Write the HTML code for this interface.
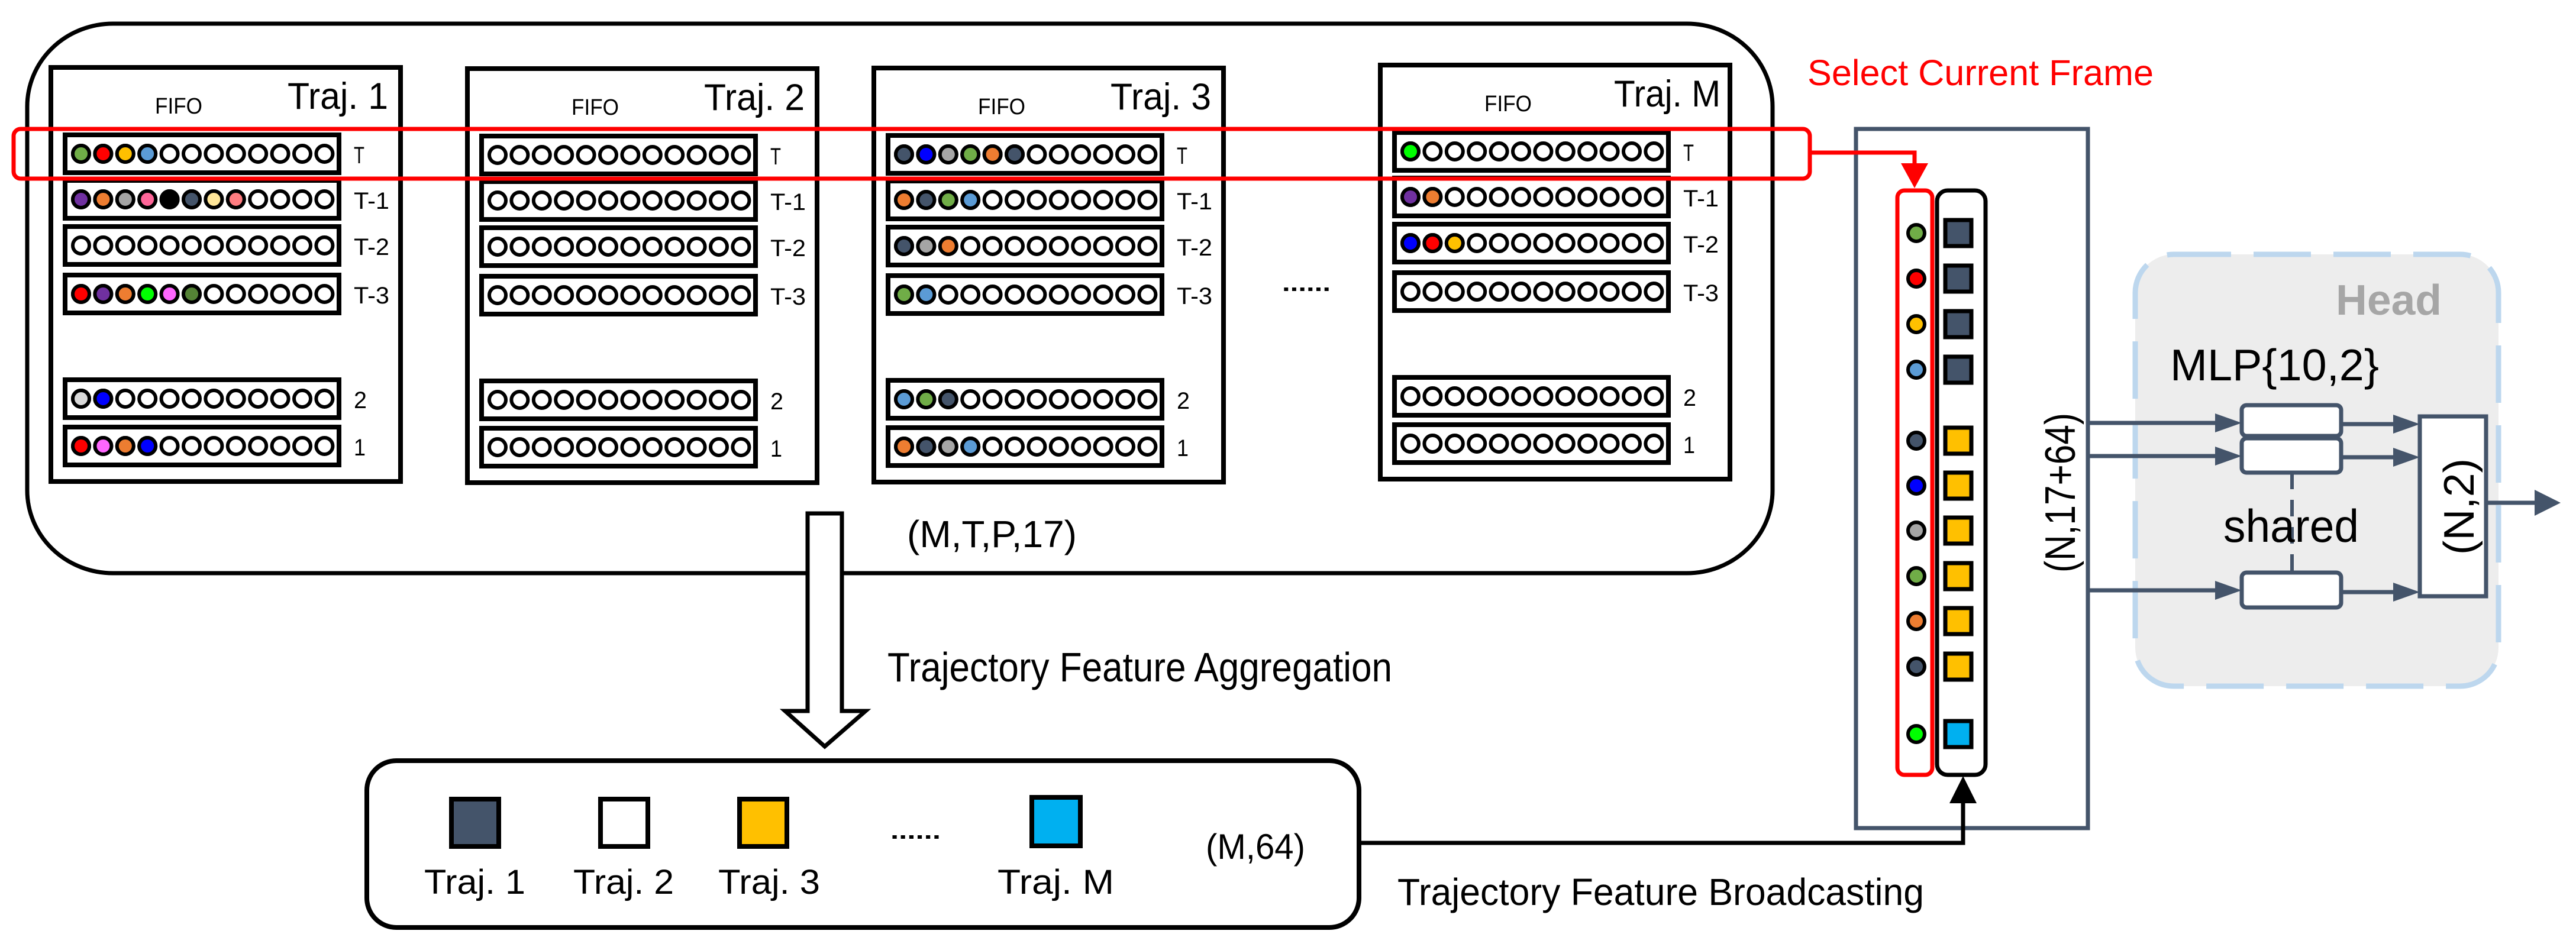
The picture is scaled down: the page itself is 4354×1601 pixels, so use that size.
<!DOCTYPE html>
<html><head><meta charset="utf-8"><style>
html,body{margin:0;padding:0;background:#fff;}
svg{display:block;}
text{font-family:"Liberation Sans",Arial,sans-serif;}
</style></head><body>
<svg width="4354" height="1601" viewBox="0 0 4354 1601" xmlns="http://www.w3.org/2000/svg">
<defs>
<g id="row">
<rect x="0" y="0" width="463" height="64" fill="#fff" stroke="#000" stroke-width="8"/>
<g fill="#fff" stroke="#000" stroke-width="6">
<circle cx="27" cy="32" r="14"/><circle cx="64.4" cy="32" r="14"/><circle cx="101.8" cy="32" r="14"/><circle cx="139.2" cy="32" r="14"/><circle cx="176.6" cy="32" r="14"/><circle cx="214" cy="32" r="14"/><circle cx="251.4" cy="32" r="14"/><circle cx="288.8" cy="32" r="14"/><circle cx="326.2" cy="32" r="14"/><circle cx="363.6" cy="32" r="14"/><circle cx="401" cy="32" r="14"/><circle cx="438.4" cy="32" r="14"/>
</g>
</g>
<g id="traj">
<rect x="0" y="0" width="591" height="700" fill="#fff" stroke="#000" stroke-width="8"/>
<use href="#row" x="24" y="114"/>
<use href="#row" x="24" y="191"/>
<use href="#row" x="24" y="269"/>
<use href="#row" x="24" y="351"/>
<use href="#row" x="24" y="528"/>
<use href="#row" x="24" y="608"/>
<text x="176" y="78" font-size="38" textLength="80" lengthAdjust="spacingAndGlyphs">FIFO</text>
<text x="512" y="162" font-size="40" textLength="18" lengthAdjust="spacingAndGlyphs">T</text>
<text x="512" y="239" font-size="40" textLength="60" lengthAdjust="spacingAndGlyphs">T-1</text>
<text x="512" y="317" font-size="40" textLength="60" lengthAdjust="spacingAndGlyphs">T-2</text>
<text x="512" y="399" font-size="40" textLength="60" lengthAdjust="spacingAndGlyphs">T-3</text>
<text x="512" y="576" font-size="40" textLength="22" lengthAdjust="spacingAndGlyphs">2</text>
<text x="512" y="656" font-size="40" textLength="20" lengthAdjust="spacingAndGlyphs">1</text>
</g>
</defs>

<!-- outer box -->
<rect x="46" y="40" width="2950" height="929" rx="145" ry="140" fill="#fff" stroke="#000" stroke-width="7"/>

<!-- traj boxes -->
<g transform="translate(86,114)"><use href="#traj"/>
<text x="400" y="70" font-size="63" textLength="170" lengthAdjust="spacingAndGlyphs">Traj. 1</text>
<g stroke="#000" stroke-width="6">
<g transform="translate(24,114)"><circle cx="27" cy="32" r="14" fill="#70ad47"/><circle cx="64.4" cy="32" r="14" fill="#ff0000"/><circle cx="101.8" cy="32" r="14" fill="#ffc000"/><circle cx="139.2" cy="32" r="14" fill="#5b9bd5"/></g>
<g transform="translate(24,191)"><circle cx="27" cy="32" r="14" fill="#7030a0"/><circle cx="64.4" cy="32" r="14" fill="#ed7d31"/><circle cx="101.8" cy="32" r="14" fill="#a5a5a5"/><circle cx="139.2" cy="32" r="14" fill="#ff6699"/><circle cx="176.6" cy="32" r="14" fill="#000"/><circle cx="214" cy="32" r="14" fill="#44546a"/><circle cx="251.4" cy="32" r="14" fill="#ffe699"/><circle cx="288.8" cy="32" r="14" fill="#ff7c80"/></g>
<g transform="translate(24,351)"><circle cx="27" cy="32" r="14" fill="#ff0000"/><circle cx="64.4" cy="32" r="14" fill="#7030a0"/><circle cx="101.8" cy="32" r="14" fill="#ed7d31"/><circle cx="139.2" cy="32" r="14" fill="#00ff00"/><circle cx="176.6" cy="32" r="14" fill="#ff66ff"/><circle cx="214" cy="32" r="14" fill="#548235"/></g>
<g transform="translate(24,528)"><circle cx="27" cy="32" r="14" fill="#d9d9d9"/><circle cx="64.4" cy="32" r="14" fill="#0000ff"/></g>
<g transform="translate(24,608)"><circle cx="27" cy="32" r="14" fill="#ff0000"/><circle cx="64.4" cy="32" r="14" fill="#ff66ff"/><circle cx="101.8" cy="32" r="14" fill="#ed7d31"/><circle cx="139.2" cy="32" r="14" fill="#0000ff"/></g>
</g>
</g>

<g transform="translate(790,116)"><use href="#traj"/>
<text x="400" y="70" font-size="63" textLength="170" lengthAdjust="spacingAndGlyphs">Traj. 2</text>
</g>

<g transform="translate(1477,115)"><use href="#traj"/>
<text x="400" y="70" font-size="63" textLength="170" lengthAdjust="spacingAndGlyphs">Traj. 3</text>
<g stroke="#000" stroke-width="6">
<g transform="translate(24,114)"><circle cx="27" cy="32" r="14" fill="#44546a"/><circle cx="64.4" cy="32" r="14" fill="#0000ff"/><circle cx="101.8" cy="32" r="14" fill="#a5a5a5"/><circle cx="139.2" cy="32" r="14" fill="#70ad47"/><circle cx="176.6" cy="32" r="14" fill="#ed7d31"/><circle cx="214" cy="32" r="14" fill="#44546a"/></g>
<g transform="translate(24,191)"><circle cx="27" cy="32" r="14" fill="#ed7d31"/><circle cx="64.4" cy="32" r="14" fill="#44546a"/><circle cx="101.8" cy="32" r="14" fill="#70ad47"/><circle cx="139.2" cy="32" r="14" fill="#5b9bd5"/></g>
<g transform="translate(24,269)"><circle cx="27" cy="32" r="14" fill="#44546a"/><circle cx="64.4" cy="32" r="14" fill="#a5a5a5"/><circle cx="101.8" cy="32" r="14" fill="#ed7d31"/></g>
<g transform="translate(24,351)"><circle cx="27" cy="32" r="14" fill="#70ad47"/><circle cx="64.4" cy="32" r="14" fill="#5b9bd5"/></g>
<g transform="translate(24,528)"><circle cx="27" cy="32" r="14" fill="#5b9bd5"/><circle cx="64.4" cy="32" r="14" fill="#70ad47"/><circle cx="101.8" cy="32" r="14" fill="#44546a"/></g>
<g transform="translate(24,608)"><circle cx="27" cy="32" r="14" fill="#ed7d31"/><circle cx="64.4" cy="32" r="14" fill="#44546a"/><circle cx="101.8" cy="32" r="14" fill="#a5a5a5"/><circle cx="139.2" cy="32" r="14" fill="#5b9bd5"/></g>
</g>
</g>

<g transform="translate(2333,110)"><use href="#traj"/>
<text x="395" y="70" font-size="63" textLength="180" lengthAdjust="spacingAndGlyphs">Traj. M</text>
<g stroke="#000" stroke-width="6">
<g transform="translate(24,114)"><circle cx="27" cy="32" r="14" fill="#00ff00"/></g>
<g transform="translate(24,191)"><circle cx="27" cy="32" r="14" fill="#7030a0"/><circle cx="64.4" cy="32" r="14" fill="#ed7d31"/></g>
<g transform="translate(24,269)"><circle cx="27" cy="32" r="14" fill="#0000ff"/><circle cx="64.4" cy="32" r="14" fill="#ff0000"/><circle cx="101.8" cy="32" r="14" fill="#ffc000"/></g>
</g>
</g>

<text x="2167" y="492" font-size="40" textLength="82" lengthAdjust="spacingAndGlyphs" font-weight="bold">......</text>

<!-- red select box -->
<rect x="23" y="218" width="3036" height="84" rx="12" fill="none" stroke="#ff0000" stroke-width="7"/>
<text x="3055" y="144" font-size="61" fill="#ff0000" textLength="585" lengthAdjust="spacingAndGlyphs">Select Current Frame</text>

<!-- gray concat box -->
<rect x="3137" y="218" width="392" height="1182" fill="#fff" stroke="#44546a" stroke-width="7"/>
<polyline points="3059,258 3236,258 3236,280" fill="none" stroke="#ff0000" stroke-width="7"/>
<polygon points="3213,276 3259,276 3236,318" fill="#ff0000"/>
<rect x="3207" y="322" width="59" height="988" rx="12" fill="#fff" stroke="#ff0000" stroke-width="7"/>
<rect x="3274" y="322" width="82" height="988" rx="18" fill="#fff" stroke="#000" stroke-width="7"/>
<g stroke="#000" stroke-width="6">
<circle cx="3239" cy="394" r="14" fill="#70ad47"/>
<circle cx="3239" cy="471" r="14" fill="#ff0000"/>
<circle cx="3239" cy="548" r="14" fill="#ffc000"/>
<circle cx="3239" cy="625" r="14" fill="#5b9bd5"/>
<circle cx="3239" cy="745" r="14" fill="#44546a"/>
<circle cx="3239" cy="821" r="14" fill="#0000ff"/>
<circle cx="3239" cy="897" r="14" fill="#a5a5a5"/>
<circle cx="3239" cy="974" r="14" fill="#70ad47"/>
<circle cx="3239" cy="1050" r="14" fill="#ed7d31"/>
<circle cx="3239" cy="1127" r="14" fill="#44546a"/>
<circle cx="3239" cy="1241" r="14" fill="#00ff00"/>
</g>
<g stroke="#000" stroke-width="7">
<rect x="3288" y="372" width="44" height="44" fill="#44546a"/>
<rect x="3288" y="449" width="44" height="44" fill="#44546a"/>
<rect x="3288" y="526" width="44" height="44" fill="#44546a"/>
<rect x="3288" y="603" width="44" height="44" fill="#44546a"/>
<rect x="3288" y="723" width="44" height="44" fill="#ffc000"/>
<rect x="3288" y="799" width="44" height="44" fill="#ffc000"/>
<rect x="3288" y="875" width="44" height="44" fill="#ffc000"/>
<rect x="3288" y="952" width="44" height="44" fill="#ffc000"/>
<rect x="3288" y="1028" width="44" height="44" fill="#ffc000"/>
<rect x="3288" y="1105" width="44" height="44" fill="#ffc000"/>
<rect x="3288" y="1219" width="44" height="44" fill="#00b0f0"/>
</g>
<text transform="translate(3507,833) rotate(-90)" x="-135" y="0" font-size="72" textLength="270" lengthAdjust="spacingAndGlyphs">(N,17+64)</text>

<!-- Head -->
<rect x="3609" y="430" width="614" height="730" rx="65" fill="#ededed" stroke="#bdd7ee" stroke-width="9" stroke-dasharray="97,38"/>
<text x="3948" y="532" font-size="72" font-weight="bold" fill="#a6a6a6" textLength="179" lengthAdjust="spacingAndGlyphs">Head</text>
<text x="3668" y="643" font-size="75" textLength="353" lengthAdjust="spacingAndGlyphs">MLP{10,2}</text>
<line x1="3874" y1="799" x2="3874" y2="968" stroke="#44546a" stroke-width="6" stroke-dasharray="28,18"/>
<text x="3758" y="916" font-size="78" textLength="229" lengthAdjust="spacingAndGlyphs">shared</text>
<g stroke="#44546a" stroke-width="7" fill="none">
<line x1="3529" y1="715" x2="3750" y2="715"/>
<line x1="3529" y1="771" x2="3750" y2="771"/>
<line x1="3529" y1="998" x2="3750" y2="998"/>
<line x1="3957" y1="717" x2="4050" y2="717"/>
<line x1="3957" y1="773" x2="4050" y2="773"/>
<line x1="3957" y1="1001" x2="4050" y2="1001"/>
<line x1="4202" y1="850" x2="4290" y2="850"/>
</g>
<g fill="#44546a">
<polygon points="3744,699 3789,715 3744,731"/>
<polygon points="3744,755 3789,771 3744,787"/>
<polygon points="3744,982 3789,998 3744,1014"/>
<polygon points="4045,701 4090,717 4045,733"/>
<polygon points="4045,757 4090,773 4045,789"/>
<polygon points="4045,985 4090,1001 4045,1017"/>
<polygon points="4284,828 4328,850 4284,872"/>
</g>
<g fill="#fff" stroke="#44546a" stroke-width="7">
<rect x="3789" y="685" width="168" height="52" rx="8"/>
<rect x="3789" y="741" width="168" height="58" rx="8"/>
<rect x="3789" y="968" width="168" height="59" rx="8"/>
<rect x="4090" y="704" width="112" height="304"/>
</g>
<text transform="translate(4181,856) rotate(-90)" x="-82" y="0" font-size="72" textLength="163" lengthAdjust="spacingAndGlyphs">(N,2)</text>

<!-- hollow arrow -->
<polygon points="1365,868 1423,868 1423,1202 1463,1202 1394,1262 1327,1202 1365,1202" fill="#fff" stroke="#000" stroke-width="7"/>
<text x="1533" y="925" font-size="64" textLength="287" lengthAdjust="spacingAndGlyphs">(M,T,P,17)</text>
<text x="1500" y="1152" font-size="70" textLength="853" lengthAdjust="spacingAndGlyphs">Trajectory Feature Aggregation</text>

<!-- bottom box -->
<rect x="620" y="1286" width="1677" height="282" rx="50" fill="#fff" stroke="#000" stroke-width="8"/>
<g stroke="#000" stroke-width="8">
<rect x="763" y="1351" width="80" height="80" fill="#44546a"/>
<rect x="1015" y="1351" width="80" height="80" fill="#fff"/>
<rect x="1250" y="1351" width="80" height="80" fill="#00b0f0" style="fill:#ffc000"/>
<rect x="1744" y="1348" width="82" height="82" fill="#00b0f0"/>
</g>
<text x="717" y="1511" font-size="58" textLength="171" lengthAdjust="spacingAndGlyphs">Traj. 1</text>
<text x="969" y="1511" font-size="58" textLength="170" lengthAdjust="spacingAndGlyphs">Traj. 2</text>
<text x="1214" y="1511" font-size="58" textLength="172" lengthAdjust="spacingAndGlyphs">Traj. 3</text>
<text x="1686" y="1511" font-size="58" textLength="197" lengthAdjust="spacingAndGlyphs">Traj. M</text>
<text x="1505" y="1418" font-size="40" font-weight="bold" textLength="85" lengthAdjust="spacingAndGlyphs">......</text>
<text x="2038" y="1452" font-size="60" textLength="168" lengthAdjust="spacingAndGlyphs">(M,64)</text>

<!-- broadcasting -->
<polyline points="2297,1425 3318,1425 3318,1350" fill="none" stroke="#000" stroke-width="7"/>
<polygon points="3295,1358 3341,1358 3318,1312" fill="#000"/>
<text x="2362" y="1530" font-size="64" textLength="890" lengthAdjust="spacingAndGlyphs">Trajectory Feature Broadcasting</text>
</svg>
</body></html>
